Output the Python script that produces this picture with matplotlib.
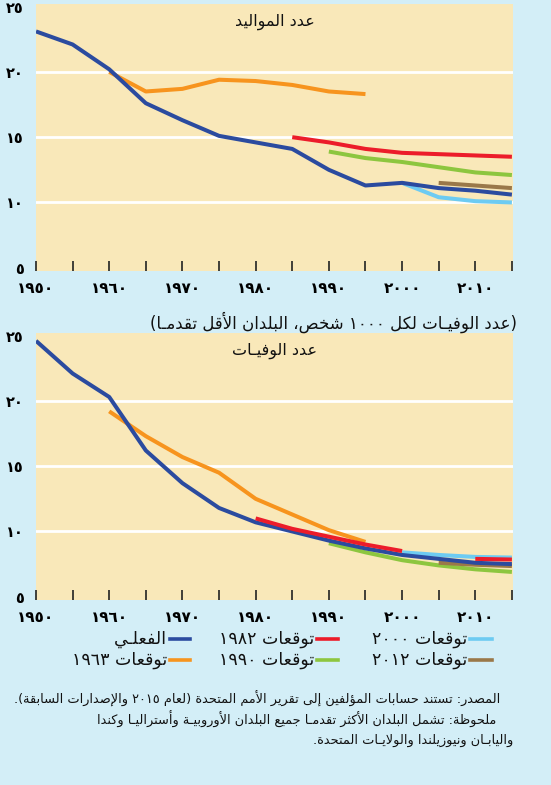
import numpy as np
import matplotlib
matplotlib.use("Agg")
import matplotlib.pyplot as plt
from matplotlib.lines import Line2D

# ---------------- data ----------------
years = [1950, 1955, 1960, 1965, 1970, 1975, 1980, 1985, 1990, 1995, 2000, 2005, 2010, 2015]
x_label_years = [1950, 1960, 1970, 1980, 1990, 2000, 2010]
y_ticks = [5, 10, 15, 20, 25]

births_actual = [23.1, 22.1, 20.2, 17.6, 16.3, 15.1, 14.6, 14.1, 12.5, 11.3, 11.5, 11.1, 10.9, 10.6]
births_1963_years = [1960, 1965, 1970, 1975, 1980, 1985, 1990, 1995]
births_1963 = [20.0, 18.5, 18.7, 19.4, 19.3, 19.0, 18.5, 18.3]
births_1982_years = [1985, 1990, 1995, 2000, 2005, 2010, 2015]
births_1982 = [15.0, 14.6, 14.1, 13.8, 13.7, 13.6, 13.5]
births_1990_years = [1990, 1995, 2000, 2005, 2010, 2015]
births_1990 = [13.9, 13.4, 13.1, 12.7, 12.3, 12.1]
births_2000_years = [2000, 2005, 2010, 2015]
births_2000 = [11.5, 10.4, 10.1, 10.0]
births_2012_years = [2005, 2010, 2015]
births_2012 = [11.5, 11.3, 11.1]

deaths_actual = [24.6, 22.1, 20.3, 16.2, 13.7, 11.8, 10.7, 10.0, 9.3, 8.7, 8.2, 7.9, 7.6, 7.5]
deaths_1963_years = [1960, 1965, 1970, 1975, 1980, 1985, 1990, 1995]
deaths_1963 = [19.2, 17.3, 15.7, 14.5, 12.5, 11.3, 10.1, 9.2]
deaths_1982_years = [1980, 1985, 1990, 1995, 2000, 2005, 2010, 2015]
deaths_1982 = [11.0, 10.2, 9.6, 9.0, 8.5, np.nan, 7.9, 7.85]
deaths_1990_years = [1990, 1995, 2000, 2005, 2010, 2015]
deaths_1990 = [9.1, 8.4, 7.8, 7.4, 7.1, 6.9]
deaths_2000_years = [2000, 2005, 2010, 2015]
deaths_2000 = [8.4, 8.2, 8.05, 8.0]
deaths_2012_years = [2005, 2010, 2015]
deaths_2012 = [7.6, 7.45, 7.35]

title_births = "عدد المواليد"
title_deaths = "عدد الوفيـات"
header = "(عدد الوفيـات لكل ١٠٠٠ شخص، البلدان الأقل تقدمـا)"
legend_labels = ["الفعلـي", "توقعات ١٩٨٢", "توقعات ٢٠٠٠", "توقعات ١٩٦٣", "توقعات ١٩٩٠", "توقعات ٢٠١٢"]
note_lines = [
    "المصدر: تستند حسابات المؤلفين إلى تقرير الأمم المتحدة (لعام ٢٠١٥ والإصدارات السابقة).",
    "ملحوظة: تشمل البلدان الأكثر تقدمـا جميع البلدان الأوروبيـة وأستراليـا وكندا",
    "واليابـان ونيوزيلندا والولايـات المتحدة.",
]

C_ACT = "#2B4B9F"
C_82 = "#EC1C2A"
C_00 = "#6DCBF2"
C_63 = "#F7941E"
C_90 = "#8DC63F"
C_12 = "#9A7849"
BG = "#D3EEF7"
PANEL = "#F9E8B9"

# ---------------- minimal Arabic shaping ----------------
F = {
    '\u0621': ('\uFE80', None, None, None),
    '\u0622': ('\uFE81', '\uFE82', None, None),
    '\u0623': ('\uFE83', '\uFE84', None, None),
    '\u0624': ('\uFE85', '\uFE86', None, None),
    '\u0625': ('\uFE87', '\uFE88', None, None),
    '\u0626': ('\uFE89', '\uFE8A', '\uFE8B', '\uFE8C'),
    '\u0627': ('\uFE8D', '\uFE8E', None, None),
    '\u0628': ('\uFE8F', '\uFE90', '\uFE91', '\uFE92'),
    '\u0629': ('\uFE93', '\uFE94', None, None),
    '\u062A': ('\uFE95', '\uFE96', '\uFE97', '\uFE98'),
    '\u062B': ('\uFE99', '\uFE9A', '\uFE9B', '\uFE9C'),
    '\u062C': ('\uFE9D', '\uFE9E', '\uFE9F', '\uFEA0'),
    '\u062D': ('\uFEA1', '\uFEA2', '\uFEA3', '\uFEA4'),
    '\u062E': ('\uFEA5', '\uFEA6', '\uFEA7', '\uFEA8'),
    '\u062F': ('\uFEA9', '\uFEAA', None, None),
    '\u0630': ('\uFEAB', '\uFEAC', None, None),
    '\u0631': ('\uFEAD', '\uFEAE', None, None),
    '\u0632': ('\uFEAF', '\uFEB0', None, None),
    '\u0633': ('\uFEB1', '\uFEB2', '\uFEB3', '\uFEB4'),
    '\u0634': ('\uFEB5', '\uFEB6', '\uFEB7', '\uFEB8'),
    '\u0635': ('\uFEB9', '\uFEBA', '\uFEBB', '\uFEBC'),
    '\u0636': ('\uFEBD', '\uFEBE', '\uFEBF', '\uFEC0'),
    '\u0637': ('\uFEC1', '\uFEC2', '\uFEC3', '\uFEC4'),
    '\u0638': ('\uFEC5', '\uFEC6', '\uFEC7', '\uFEC8'),
    '\u0639': ('\uFEC9', '\uFECA', '\uFECB', '\uFECC'),
    '\u063A': ('\uFECD', '\uFECE', '\uFECF', '\uFED0'),
    '\u0640': ('\u0640', '\u0640', '\u0640', '\u0640'),
    '\u0641': ('\uFED1', '\uFED2', '\uFED3', '\uFED4'),
    '\u0642': ('\uFED5', '\uFED6', '\uFED7', '\uFED8'),
    '\u0643': ('\uFED9', '\uFEDA', '\uFEDB', '\uFEDC'),
    '\u0644': ('\uFEDD', '\uFEDE', '\uFEDF', '\uFEE0'),
    '\u0645': ('\uFEE1', '\uFEE2', '\uFEE3', '\uFEE4'),
    '\u0646': ('\uFEE5', '\uFEE6', '\uFEE7', '\uFEE8'),
    '\u0647': ('\uFEE9', '\uFEEA', '\uFEEB', '\uFEEC'),
    '\u0648': ('\uFEED', '\uFEEE', None, None),
    '\u0649': ('\uFEEF', '\uFEF0', None, None),
    '\u064A': ('\uFEF1', '\uFEF2', '\uFEF3', '\uFEF4'),
}
LAM_ALEF = {'\u0622': ('\uFEF5', '\uFEF6'), '\u0623': ('\uFEF7', '\uFEF8'),
            '\u0625': ('\uFEF9', '\uFEFA'), '\u0627': ('\uFEFB', '\uFEFC')}
MIRROR = {'(': ')', ')': '('}


def dual(c):
    return c in F and F[c][2] is not None


def shape(s):
    out = []
    i = 0
    n = len(s)
    while i < n:
        c = s[i]
        if c not in F:
            out.append(c)
            i += 1
            continue
        prev_join = i > 0 and dual(s[i - 1])
        if c == '\u0644' and i + 1 < n and s[i + 1] in LAM_ALEF:
            out.append(LAM_ALEF[s[i + 1]][1 if prev_join else 0])
            i += 2
            continue
        next_join = dual(c) and i + 1 < n and s[i + 1] in F
        f = F[c]
        if prev_join and next_join:
            g = f[3]
        elif prev_join:
            g = f[1]
        elif next_join:
            g = f[2]
        else:
            g = f[0]
        out.append(g)
        i += 1
    shaped = ''.join(out)
    tokens = []
    cur = ''
    cur_digit = None
    for ch in shaped:
        isd = '\u0660' <= ch <= '\u0669' or ch.isdigit()
        if cur_digit is None or isd == cur_digit:
            cur += ch
        else:
            tokens.append((cur, cur_digit))
            cur = ch
        cur_digit = isd
    if cur:
        tokens.append((cur, cur_digit))
    res = ''
    for t, d in reversed(tokens):
        res += t if d else ''.join(MIRROR.get(ch, ch) for ch in t[::-1])
    return res


def ar_digits(v):
    return ''.join(chr(0x0660 + int(ch)) for ch in str(v))


FONT = ['DejaVu Sans']
plt.rcParams['font.family'] = FONT

# ---------------- figure ----------------
W, H = 551, 785
fig = plt.figure(figsize=(W / 100, H / 100), dpi=100, facecolor=BG)


def px_axes(x0, y0, x1, y1):
    return fig.add_axes([x0 / W, 1 - y1 / H, (x1 - x0) / W, (y1 - y0) / H])


LW = 2.9


def style(ax, title):
    ax.set_facecolor(PANEL)
    for sp in ax.spines.values():
        sp.set_visible(False)
    ax.set_xlim(1950, 2015.15)
    ax.set_ylim(4.75, 25.2)
    ax.set_yticks(y_ticks)
    ax.set_yticklabels([ar_digits(v) for v in y_ticks], fontsize=10.5, fontweight='bold')
    ax.tick_params(axis='y', length=0, pad=9)
    ax.set_xticks(years)
    ax.set_xticklabels([ar_digits(y) if y in x_label_years else '' for y in years],
                       fontsize=11, fontweight='bold')
    ax.tick_params(axis='x', direction='in', length=7, width=1.2, color='#222222', pad=7)
    for g in [10, 15, 20]:
        ax.axhline(g, color='white', lw=2.0, zorder=1)
    ax.text(0.5, 0.935, shape(title), transform=ax.transAxes, ha='center', va='center',
            fontsize=11.5, color='#111111')


ax1 = px_axes(36, 4, 513, 271)
style(ax1, title_births)
ax1.plot(births_1963_years, births_1963, color=C_63, lw=LW, zorder=3, solid_capstyle='butt')
ax1.plot(births_1990_years, births_1990, color=C_90, lw=LW, zorder=3, solid_capstyle='butt')
ax1.plot(births_2012_years, births_2012, color=C_12, lw=LW, zorder=3, solid_capstyle='butt')
ax1.plot(births_2000_years, births_2000, color=C_00, lw=LW, zorder=3, solid_capstyle='butt')
ax1.plot(births_1982_years, births_1982, color=C_82, lw=LW, zorder=3, solid_capstyle='butt')
ax1.plot(years, births_actual, color=C_ACT, lw=LW, zorder=4, solid_capstyle='butt')

ax2 = px_axes(36, 333, 513, 600)
style(ax2, title_deaths)
ax2.plot(deaths_1990_years, deaths_1990, color=C_90, lw=LW, zorder=3, solid_capstyle='butt')
ax2.plot(deaths_2012_years, deaths_2012, color=C_12, lw=LW, zorder=3, solid_capstyle='butt')
ax2.plot(deaths_2000_years, deaths_2000, color=C_00, lw=LW, zorder=3, solid_capstyle='butt')
ax2.plot(deaths_1963_years, deaths_1963, color=C_63, lw=LW, zorder=3, solid_capstyle='butt')
ax2.plot(years, deaths_actual, color=C_ACT, lw=LW, zorder=4, solid_capstyle='butt')
ax2.plot(deaths_1982_years, deaths_1982, color=C_82, lw=LW, zorder=5, solid_capstyle='butt')

# header above lower panel
fig.text(517 / W, 1 - 322 / H, shape(header), ha='right', va='center', fontsize=12, color='#111111')

# legend (RTL: line at right, text at left)
leg_colors = [C_ACT, C_82, C_00, C_63, C_90, C_12]
line_x = [(170, 190), (317, 338), (470, 492)]
rows_y = [639, 660]
for k, (lab, col) in enumerate(zip(legend_labels, leg_colors)):
    r, c = divmod(k, 3)
    x0, x1 = line_x[c]
    yy = 1 - rows_y[r] / H
    fig.add_artist(Line2D([x0 / W, x1 / W], [yy, yy], color=col, lw=2.6, transform=fig.transFigure))
    fig.text((x0 - 3) / W, yy, shape(lab), ha='right', va='center', fontsize=12.5, color='#111111')

# notes: fit the first (longest in this font) line between x=12 and x=500
note_pos = [(500, 699), (496, 719), (513, 740)]
note_texts = []
for line, (xr, yc) in zip(note_lines, note_pos):
    note_texts.append(fig.text(xr / W, 1 - yc / H, shape(line), ha='right', va='center',
                               fontsize=9.5, color='#111111'))
renderer = fig.canvas.get_renderer()
widest = max(t.get_window_extent(renderer).width for t in note_texts[:2])
fs = 9.5 * 488.0 / widest
for t in note_texts:
    t.set_fontsize(fs)

fig.savefig('out.png', dpi=100, facecolor=BG)
